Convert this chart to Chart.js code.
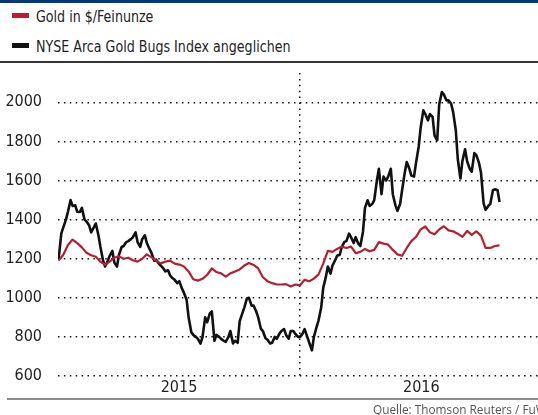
<!DOCTYPE html>
<html lang="de">
<head>
<meta charset="utf-8">
<script src="https://cdn.jsdelivr.net/npm/chart.js@4.4.1/dist/chart.umd.min.js"></script>
<style>
  body { margin: 0; width: 538px; height: 415px; overflow: hidden; background: #fff; position: relative;
         font-family: 'DejaVu Sans Condensed', sans-serif; color: #222; }
  #bar { position: absolute; left: 0; top: 0; width: 538px; height: 3px; background: #003a7d; }
  .leg { position: absolute; left: 12px; font-size: 16px; line-height: 18px; white-space: nowrap; }
  .leg i { display: inline-block; width: 17px; height: 5px; margin-right: 7px; vertical-align: 4px; }
  .leg span { display: inline-block; transform: scaleX(0.88); transform-origin: left center; }
  #rule { position: absolute; left: 0; top: 61px; width: 538px; height: 1.5px; background: #333; }
  #wrap { position: absolute; left: 0; top: 64px; width: 538px; height: 340px; }
  #wrap canvas { display: block; }
  #axis { position: absolute; left: 7px; top: 398px; width: 531px; height: 2px; background: #8c8c8c; }
  #src { position: absolute; left: 373px; top: 401px; font: 11.8px 'Open Sans', sans-serif; color: #555; white-space: nowrap; }
</style>
</head>
<body>
<div id="bar"></div>
<div id="legend"></div>
<div id="rule"></div>
<div id="wrap"><canvas id="chart" width="538" height="340"></canvas></div>
<div id="axis"></div>
<div id="src">Quelle: Thomson Reuters / FuW</div>
<script>
// weekly readings (Fridays)
const weeks = [
  '2015-01-02','2015-01-09','2015-01-16','2015-01-23','2015-01-30',
  '2015-02-06','2015-02-13','2015-02-20','2015-02-27',
  '2015-03-06','2015-03-13','2015-03-20','2015-03-27',
  '2015-04-03','2015-04-10','2015-04-17','2015-04-24',
  '2015-05-01','2015-05-08','2015-05-15','2015-05-22','2015-05-29',
  '2015-06-05','2015-06-12','2015-06-19','2015-06-26',
  '2015-07-03','2015-07-10','2015-07-17','2015-07-24','2015-07-31',
  '2015-08-07','2015-08-14','2015-08-21','2015-08-28',
  '2015-09-04','2015-09-11','2015-09-18','2015-09-25',
  '2015-10-02','2015-10-09','2015-10-16','2015-10-23','2015-10-30',
  '2015-11-06','2015-11-13','2015-11-20','2015-11-27',
  '2015-12-04','2015-12-11','2015-12-18','2015-12-25',
  '2016-01-01','2016-01-08','2016-01-15','2016-01-22','2016-01-29',
  '2016-02-05','2016-02-12','2016-02-19','2016-02-26',
  '2016-03-04','2016-03-11','2016-03-18','2016-03-25',
  '2016-04-01','2016-04-08','2016-04-15','2016-04-22','2016-04-29',
  '2016-05-06','2016-05-13','2016-05-20','2016-05-27',
  '2016-06-03','2016-06-10','2016-06-17','2016-06-24',
  '2016-07-01','2016-07-08','2016-07-15','2016-07-22','2016-07-29',
  '2016-08-05','2016-08-12','2016-08-19','2016-08-26',
  '2016-09-02','2016-09-09','2016-09-16','2016-09-23','2016-09-30',
  '2016-10-07','2016-10-14','2016-10-21','2016-10-28'
];

const gold = [
  1190, 1220, 1270, 1298, 1280,
  1258, 1230, 1218, 1210,
  1185, 1168, 1185, 1205,
  1212, 1200, 1205, 1192,
  1185, 1200, 1222, 1207, 1190,
  1176, 1185, 1190, 1175,
  1170, 1160, 1135, 1095, 1088,
  1097, 1118, 1150, 1132,
  1125, 1108, 1125, 1135,
  1145, 1165, 1178, 1168, 1150,
  1105, 1085, 1075, 1068,
  1068, 1070, 1058, 1068,
  1064, 1092, 1085, 1098, 1120,
  1175, 1240, 1235, 1250,
  1262, 1255, 1262, 1228,
  1235, 1250, 1238, 1245, 1285,
  1277, 1272, 1245, 1222,
  1215, 1255, 1290, 1312,
  1350, 1365, 1335, 1325, 1350,
  1366, 1345, 1340, 1328,
  1312, 1342, 1322, 1340, 1318,
  1255, 1255, 1265, 1268
];

// gold bugs index (rebased), Friday closes
const bugs = [
  1200, 1360, 1440, 1470, 1440,
  1460, 1390, 1335, 1380,
  1260, 1160, 1215, 1180,
  1220, 1265, 1290, 1310,
  1285, 1300, 1280, 1230, 1195,
  1165, 1135, 1115, 1092,
  1085, 1025, 900, 810, 790,
  800, 875, 930, 810,
  790, 775, 830, 780,
  880, 950, 1000, 960, 900,
  830, 785, 770, 790,
  830, 810, 830, 815,
  800, 840, 770, 800, 885,
  1050, 1160, 1165, 1215,
  1260, 1290, 1310, 1310,
  1265, 1460, 1470, 1500, 1660,
  1620, 1620, 1530, 1445,
  1550, 1695, 1625, 1690,
  1870, 1940, 1940, 1830, 1990,
  2040, 2010, 1950, 1710,
  1700, 1700, 1645, 1730, 1640,
  1450, 1480, 1555, 1490
];

// gold bugs index, following Tuesday
const bugsTue = [
  1330, 1400, 1500, 1473, 1439,
  1400, 1370, 1360, 1320,
  1190, 1190, 1240, 1160,
  1260, 1285, 1300, 1335,
  1260, 1320, 1250, 1190, 1175,
  1150, 1141, 1100, 1075,
  1047, 990, 825, 800, 766,
  900, 920, 780, 800,
  780, 800, 766, 770,
  920, 997, 960, 930, 842,
  793, 766, 800, 817,
  840, 791, 830, 800,
  817, 800, 731, 850, 950,
  1107, 1124, 1192, 1220,
  1286, 1328, 1280, 1277,
  1337, 1499, 1480, 1600, 1530,
  1600, 1660, 1473, 1480,
  1640, 1660, 1620, 1772,
  1959, 1908, 1925, 1806, 2053,
  2010, 1993, 1857, 1610,
  1760, 1660, 1740, 1690, 1482,
  1470, 1550, 1550
];

const seriesNames = ['Gold in $/Feinunze', 'NYSE Arca Gold Bugs Index angeglichen'];
const seriesColors = ['#b5202e', '#111111'];
const yTicks = [600, 800, 1000, 1200, 1400, 1600, 1800, 2000];
const years = ['2015', '2016'];

const DAY = 86400000;
const origin = Date.parse('2015-01-01');
const toDay = d => (Date.parse(d) - origin) / DAY;
const yearStarts = years.map(y => toDay(y + '-01-01'));
const yearMids = years.map(y => (toDay(y + '-01-01') + toDay((+y + 1) + '-01-01')) / 2);
const boundary = yearStarts[1];

const goldPts = weeks.map((w, i) => ({ x: toDay(w), y: gold[i] }));
const bugPts = [];
weeks.forEach((w, i) => {
  bugPts.push({ x: toDay(w), y: bugs[i] });
  if (i < bugsTue.length) bugPts.push({ x: toDay(w) + 4, y: bugsTue[i] });
});

// legend as html
document.getElementById('legend').innerHTML = seriesNames.map((n, i) =>
  '<div class="leg" style="top:' + (8 + i * 30) + 'px"><i style="background:' + seriesColors[i] + '"></i><span>' + n + '</span></div>'
).join('');

const font = { family: "'DejaVu Sans Condensed', sans-serif", size: 16 };
const dots = [1.5, 4.4];

new Chart(document.getElementById('chart'), {
  type: 'line',
  data: {
    datasets: [
      { label: seriesNames[0], data: goldPts, borderColor: seriesColors[0], borderWidth: 2.2 },
      { label: seriesNames[1], data: bugPts, borderColor: seriesColors[1], borderWidth: 2.6 }
    ]
  },
  options: {
    responsive: false,
    animation: false,
    devicePixelRatio: 1,
    elements: { point: { radius: 0, hoverRadius: 0 }, line: { tension: 0, borderJoinStyle: 'round' } },
    layout: { padding: { top: 9, right: 0, bottom: 4.8, left: 0 } },
    plugins: { legend: { display: false }, tooltip: { enabled: false } },
    scales: {
      x: {
        type: 'linear', min: 0, max: 724,
        afterBuildTicks: s => { s.ticks = [yearMids[0], boundary, yearMids[1]].map(v => ({ value: v })); },
        ticks: {
          font, color: '#222', padding: 2, maxRotation: 0, autoSkip: false,
          callback: v => { const k = yearMids.indexOf(v); return k >= 0 ? years[k] : ''; }
        },
        grid: { drawTicks: false, lineWidth: 1.5, color: c => (c.tick && c.tick.value === boundary) ? '#111' : 'rgba(0,0,0,0)' },
        border: { display: false, dash: dots }
      },
      y: {
        min: 600, max: 2150,
        afterBuildTicks: s => { s.ticks = yTicks.map(v => ({ value: v })); },
        afterFit: s => { s.width = 58; s.paddingTop = 0; s.paddingBottom = 0; },
        ticks: { font, color: '#222', padding: 16, callback: v => String(v) },
        grid: { drawTicks: false, lineWidth: 1.5, color: '#111' },
        border: { display: false, dash: dots }
      }
    }
  }
});
</script>
</body>
</html>
